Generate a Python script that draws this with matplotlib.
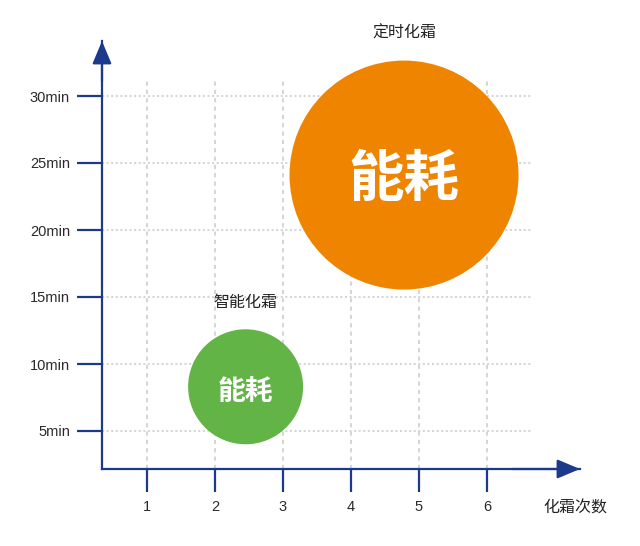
import matplotlib
matplotlib.use("Agg")
import matplotlib.pyplot as plt

plt.rcParams['font.family'] = ['Liberation Sans', 'Noto Sans CJK SC', 'DejaVu Sans']

# 数据
x_ticks = [1, 2, 3, 4, 5, 6]
y_ticks = [5, 10, 15, 20, 25, 30]
y_labels = ["5min", "10min", "15min", "20min", "25min", "30min"]

modes = ["智能化霜", "定时化霜"]
defrost_count = [2.45, 4.78]
defrost_time = [8.3, 24.1]
bubble_radius_px = [57.5, 114.5]
colors = ["#62b446", "#ef8400"]

AXIS = "#1c3a8c"
GRID = "#d6d6d6"
W, H = 640, 546
DPI = 100

# 像素 -> 数据 比例
PX_X = 68.0      # 每 1 次
PX_Y = 13.4      # 每 1 min

fig = plt.figure(figsize=(W / DPI, H / DPI), dpi=DPI)
left, right, top, bottom = 102, 580, 41, 469
ax = fig.add_axes([left / W, 1 - bottom / H, (right - left) / W, (bottom - top) / H])

x0 = 1 - (147 - left) / PX_X
x1 = 1 + (right - 147) / PX_X
y0 = 5 - (bottom - 431) / PX_Y
y1 = 5 + (431 - top) / PX_Y
ax.set_xlim(x0, x1)
ax.set_ylim(y0, y1)

for s in ["top", "right"]:
    ax.spines[s].set_visible(False)
for s in ["left", "bottom"]:
    ax.spines[s].set_color(AXIS)
    ax.spines[s].set_linewidth(1.6)

# 网格
grid_top = 5 + (431 - 78) / PX_Y
grid_right = 1 + (532 - 147) / PX_X
ax.vlines(x_ticks, y0, grid_top, colors=GRID, linestyles=(0, (2, 2)), linewidth=1.5, zorder=1)
ax.hlines(y_ticks, x0, grid_right, colors=GRID, linestyles=(0, (1, 1.2)), linewidth=1.5, zorder=1)

# 刻度
ax.set_xticks(x_ticks)
ax.set_xticklabels([str(v) for v in x_ticks])
ax.set_yticks(y_ticks)
ax.set_yticklabels(y_labels)
ax.tick_params(axis="x", direction="out", length=16.5, width=1.6, color=AXIS,
               pad=6, labelsize=10.5, labelcolor="#2a2a2a")
ax.tick_params(axis="y", direction="out", length=18, width=1.6, color=AXIS,
               pad=5, labelsize=10.5, labelcolor="#2a2a2a")

# 箭头
arrow = dict(arrowstyle="-|>,head_length=1.0,head_width=0.42", color=AXIS,
             lw=1.6, mutation_scale=14, shrinkA=0, shrinkB=0)
ax.annotate("", xy=(x0, y1), xytext=(x0, y1 - 3), xycoords="data", arrowprops=arrow,
            annotation_clip=False)
ax.annotate("", xy=(x1, y0), xytext=(x1 - 1, y0), xycoords="data", arrowprops=arrow,
            annotation_clip=False)

# 气泡
sizes = [(2 * r * 72 / DPI) ** 2 for r in bubble_radius_px]
ax.scatter(defrost_count, defrost_time, s=sizes, c=colors, linewidths=0, zorder=3, clip_on=False)

cjk = ['Noto Sans CJK SC', 'DejaVu Sans']
label_sizes = [20, 40]
for xv, yv, r, fs, name in zip(defrost_count, defrost_time, bubble_radius_px, label_sizes, modes):
    ax.text(xv, yv - 3.5 / PX_Y - 0.1, "能耗", ha="center", va="center", color="white",
            fontsize=fs, fontweight="bold", family=cjk, zorder=4)
    ax.text(xv, yv + (r + 27) / PX_Y, name, ha="center", va="center", color="#222222",
            fontsize=11.5, family=cjk, zorder=4)

ax.text(1 + (575 - 147) / PX_X, 5 - (508 - 431) / PX_Y, "化霜次数", ha="center", va="center",
        color="#222222", fontsize=11.5, family=cjk, clip_on=False)

fig.savefig("out.png", dpi=DPI)
